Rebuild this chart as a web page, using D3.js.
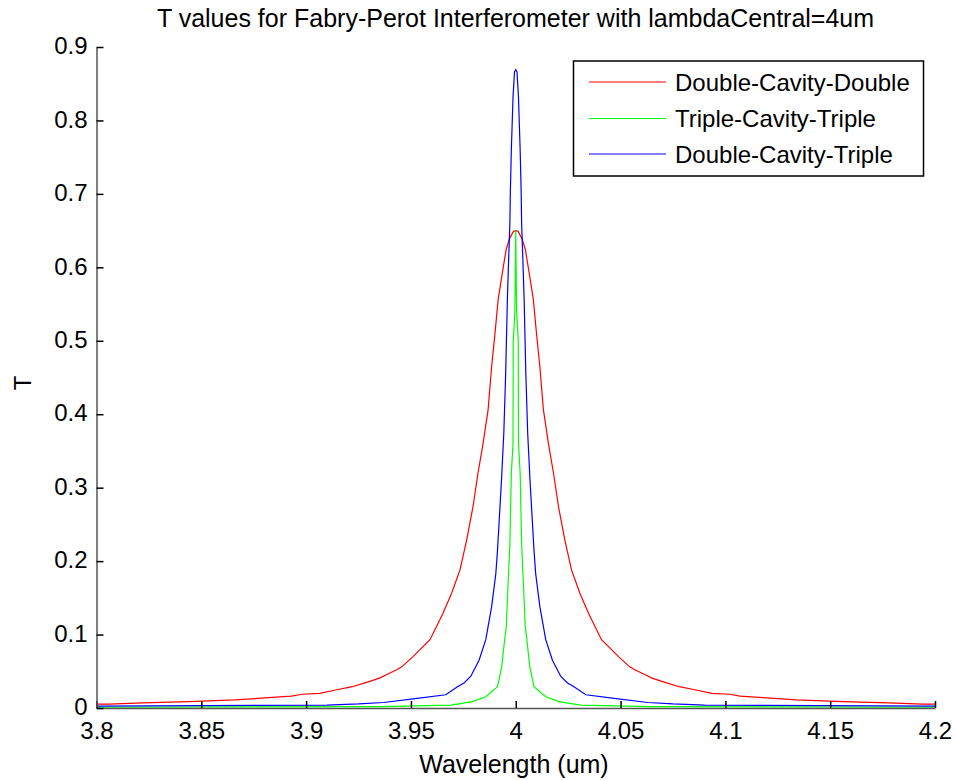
<!DOCTYPE html>
<html><head><meta charset="utf-8">
<script src="https://cdn.jsdelivr.net/npm/d3@7"></script>
<style>
html,body{margin:0;padding:0;background:#fff;}
text{font-family:"Liberation Sans",Arial,Helvetica,sans-serif;fill:#000;}
</style></head>
<body><svg id="chart" width="956" height="780"></svg>
<script>
// ---- data ----
const titleText = "T values for Fabry-Perot Interferometer with lambdaCentral=4um";
const xLabel = "Wavelength (um)";
const yLabel = "T";
const xTicks = [3.8,3.85,3.9,3.95,4.0,4.05,4.1,4.15,4.2];
const xTickLabels = ["3.8","3.85","3.9","3.95","4","4.05","4.1","4.15","4.2"];
const yTicks = [0,0.1,0.2,0.3,0.4,0.5,0.6,0.7,0.8,0.9];
const yTickLabels = ["0","0.1","0.2","0.3","0.4","0.5","0.6","0.7","0.8","0.9"];
const seriesNames = ["Double-Cavity-Double","Triple-Cavity-Triple","Double-Cavity-Triple"];
const seriesColors = ["#ff0000","#00ff00","#0000ff"];

const redX = [3.800,3.806,3.822,3.844,3.866,3.882,3.893,3.898,3.9065,3.914,3.922,3.930,3.9353,3.938,3.9432,3.9456,3.951,3.9591,3.9653,3.9695,3.9734,3.9766,3.9796,3.982,3.9844,3.9868,3.9885,3.9901,3.9916,3.9933,3.9954,3.9970,3.9989,
  4.000,
  4.0011,4.0030,4.0046,4.0067,4.0084,4.0099,4.0115,4.0132,4.0156,4.018,4.0204,4.0234,4.0266,4.0305,4.0347,4.0409,4.049,4.0544,4.0568,4.062,4.0647,4.070,4.078,4.086,4.0935,4.102,4.107,4.118,4.134,4.156,4.178,4.194,4.200];
const redT = [0.0054,0.0054,0.0070,0.0086,0.011,0.014,0.0163,0.0187,0.020,0.0245,0.029,0.036,0.041,0.045,0.052,0.056,0.070,0.093,0.129,0.157,0.188,0.229,0.274,0.320,0.360,0.406,0.465,0.510,0.556,0.587,0.624,0.639,0.649,
  0.650,
  0.649,0.639,0.624,0.587,0.556,0.510,0.465,0.406,0.360,0.320,0.274,0.229,0.188,0.157,0.129,0.093,0.070,0.056,0.052,0.045,0.041,0.036,0.029,0.0245,0.020,0.0187,0.0163,0.014,0.011,0.0086,0.0070,0.0054,0.0054];

const greenX = [3.800,3.936,3.969,3.9793,3.9857,3.9913,3.9933,3.9947,3.9955,3.996,3.9972,3.9979,3.9987,3.9988,3.9996,
  4.000,
  4.0004,4.0012,4.0013,4.0021,4.0028,4.004,4.0045,4.0053,4.0067,4.0087,4.0143,4.0207,4.031,4.064,4.200];
const greenT = [0.001,0.0018,0.004,0.0086,0.0154,0.029,0.056,0.093,0.111,0.147,0.224,0.320,0.360,0.500,0.540,
  0.650,
  0.540,0.500,0.360,0.320,0.224,0.147,0.111,0.093,0.056,0.029,0.0154,0.0086,0.004,0.0018,0.001];

const blueX = [3.800,3.910,3.925,3.937,3.953,3.9666,3.9722,3.9753,3.9785,3.9825,3.9857,3.9885,3.9905,3.9913,3.9922,3.9932,3.9943,3.9952,3.996,3.9966,3.9972,3.9974,3.9979,3.9987,3.9994,
  4.000,
  4.0006,4.0013,4.0021,4.0026,4.0028,4.0034,4.004,4.0048,4.0057,4.0068,4.0078,4.0087,4.0095,4.0115,4.0143,4.0175,4.0215,4.0247,4.0278,4.0334,4.047,4.063,4.075,4.090,4.200];
const blueT = [0.0025,0.004,0.0055,0.0075,0.013,0.018,0.029,0.034,0.043,0.065,0.093,0.138,0.183,0.215,0.260,0.310,0.374,0.456,0.556,0.610,0.660,0.700,0.760,0.832,0.866,
  0.869,
  0.866,0.832,0.760,0.700,0.660,0.610,0.556,0.456,0.374,0.310,0.260,0.215,0.183,0.138,0.093,0.065,0.043,0.034,0.029,0.018,0.013,0.0075,0.0055,0.004,0.0025];

// ---- drawing ----
const svg = d3.select("#chart");
const FONT = 24;
const x = d3.scaleLinear().domain([3.8,4.2]).range([96.5,935]);
const y = d3.scaleLinear().domain([0,0.9]).range([708,47]);

const series = [
  {name:seriesNames[0], color:seriesColors[0], xs:redX, ts:redT},
  {name:seriesNames[1], color:seriesColors[1], xs:greenX, ts:greenT},
  {name:seriesNames[2], color:seriesColors[2], xs:blueX, ts:blueT}
];

svg.append("defs").append("clipPath").attr("id","clip")
  .append("rect").attr("x",96).attr("y",40).attr("width",842).attr("height",670);

const line = d3.line().x(d=>x(d[0])).y(d=>y(d[1]));
const g = svg.append("g").attr("clip-path","url(#clip)");
series.forEach(s=>{
  g.append("path").datum(s.xs.map((v,i)=>[v,s.ts[i]]))
   .attr("d",line).attr("fill","none").attr("stroke",s.color).attr("stroke-width",1.2);
});

// axes
const xAxis = d3.axisBottom(x).tickValues(xTicks).tickFormat((d,i)=>xTickLabels[i])
  .tickSizeInner(-7).tickSizeOuter(0).tickPadding(14);
const yAxis = d3.axisLeft(y).tickValues(yTicks).tickFormat((d,i)=>yTickLabels[i])
  .tickSizeInner(-7).tickSizeOuter(0).tickPadding(9);

const gx = svg.append("g").attr("transform","translate(0,708)").call(xAxis);
const gy = svg.append("g").attr("transform","translate(96.5,0)").call(yAxis);
[gx,gy].forEach(a=>{
  a.select(".domain").attr("stroke","#555").attr("stroke-width",1.5);
  a.selectAll(".tick line").attr("stroke","#000").attr("stroke-width",1.5);
  a.selectAll(".tick text").attr("font-size",FONT).attr("font-family","Liberation Sans, Arial, sans-serif").attr("fill","#000");
});
gy.selectAll(".tick text").attr("dy","0.28em");

// title and labels
svg.append("text").attr("x",515.5).attr("y",27).attr("text-anchor","middle")
  .attr("font-size",25).text(titleText);
svg.append("text").attr("x",514).attr("y",773).attr("text-anchor","middle")
  .attr("font-size",25).text(xLabel);
svg.append("text").attr("transform","translate(31,383) rotate(-90)").attr("text-anchor","middle")
  .attr("font-size",FONT).text(yLabel);

// legend
const lg = svg.append("g");
lg.append("rect").attr("x",573.5).attr("y",61).attr("width",350).attr("height",115)
  .attr("fill","#fff").attr("stroke","#000").attr("stroke-width",1.5);
const legY = [82,118.5,154];
series.forEach((s,i)=>{
  lg.append("line").attr("x1",589).attr("x2",666).attr("y1",legY[i]).attr("y2",legY[i])
    .attr("stroke",s.color).attr("stroke-width",1.2);
  lg.append("text").attr("x",675).attr("y",legY[i]+8.5).attr("font-size",FONT).text(s.name);
});
</script></body></html>
